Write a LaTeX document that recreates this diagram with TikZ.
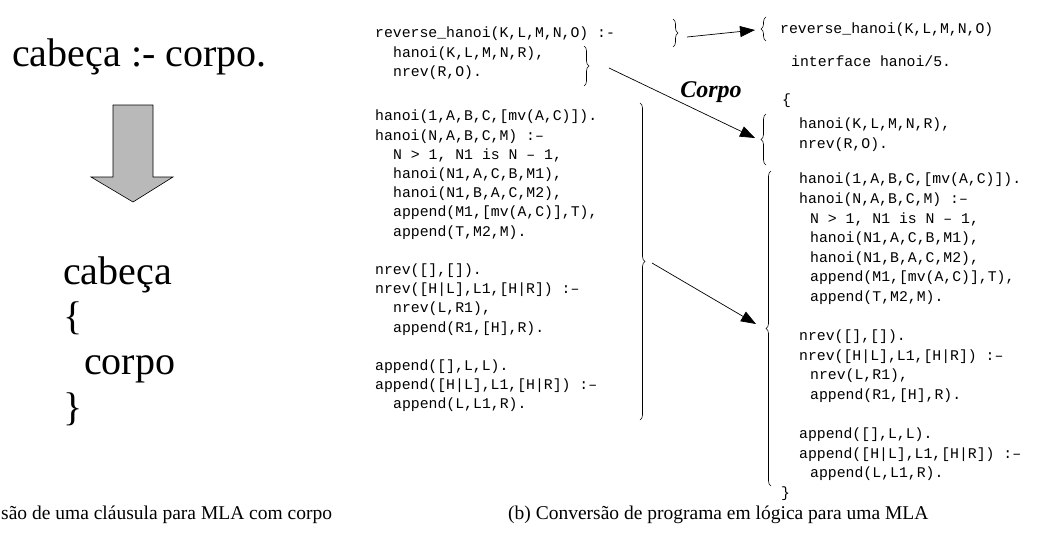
\documentclass[tikz,border=0pt]{standalone}
\usepackage{fontspec}
\setmainfont{Liberation Serif}
\setmonofont{Liberation Mono}
\usetikzlibrary{arrows.meta,decorations.pathreplacing}

\newcommand{\ind}{\hspace*{18pt}}
\newcommand{\indr}{\hspace*{11pt}}

\tikzset{
  code/.style={font=\ttfamily\fontsize{14.8}{19.2}\selectfont, anchor=north west, inner sep=0pt, align=left},
  coder/.style={code, font=\ttfamily\fontsize{14.8}{19.6}\selectfont},
  grande/.style={font=\fontsize{40}{42}\selectfont, anchor=base west, inner sep=0pt},
  legenda/.style={font=\fontsize{19.5}{22}\selectfont, anchor=base west, inner sep=0pt},
  chave/.style={decorate, decoration={brace, amplitude=5pt}, line width=0.6pt},
  seta/.style={-{Triangle[length=15pt,width=11pt]}, line width=0.7pt}
}

\begin{document}
\begin{tikzpicture}[x=1pt,y=-1pt]
\useasboundingbox (0,0) rectangle (1056,539);

% (a) clausula
\node[grande] (regra) at (12,66) {cabeça :- corpo.};
\filldraw[fill=gray!55, draw=black, line width=0.6pt] (113,105) -- (153,105) -- (153,177) -- (173,177)
  -- (133,202) -- (91,177) -- (113,177) -- cycle;
\node[grande] (cabeca) at (63,284) {cabeça};
\node[grande] (abreG) at (63,329) {\{};
\node[grande] (corpoG) at (84,374) {corpo};
\node[grande] (fechaG) at (63,420) {\}};
\node[legenda] (legA) at (1,519) {são de uma cláusula para MLA com corpo};

% (b) programa
\node[code] (revL) at (375,27) {reverse\_hanoi(K,L,M,N,O) :-\\
\ind hanoi(K,L,M,N,R),\\
\ind nrev(R,O).};
\node[code] (progL) at (375,110) {hanoi(1,A,B,C,[mv(A,C)]).\\
hanoi(N,A,B,C,M) :–\\
\ind N > 1, N1 is N – 1,\\
\ind hanoi(N1,A,C,B,M1),\\
\ind hanoi(N1,B,A,C,M2),\\
\ind append(M1,[mv(A,C)],T),\\
\ind append(T,M2,M).\\[19.2pt]
nrev([],[]).\\
nrev([H|L],L1,[H|R]) :–\\
\ind nrev(L,R1),\\
\ind append(R1,[H],R).\\[19.2pt]
append([],L,L).\\
append([H|L],L1,[H|R]) :–\\
\ind append(L,L1,R).};

\node[code] (revR) at (780,23) {reverse\_hanoi(K,L,M,N,O)};
\node[code] (iface) at (791,56) {interface hanoi/5.};
\node[code] (abre) at (782,94) {\{};
\node[coder] (corpoR) at (799,118) {hanoi(K,L,M,N,R),\\
nrev(R,O).};
\node[coder] (progR) at (799,173) {hanoi(1,A,B,C,[mv(A,C)]).\\
hanoi(N,A,B,C,M) :–\\
\indr N > 1, N1 is N – 1,\\
\indr hanoi(N1,A,C,B,M1),\\
\indr hanoi(N1,B,A,C,M2),\\
\indr append(M1,[mv(A,C)],T),\\
\indr append(T,M2,M).\\[19.6pt]
nrev([],[]).\\
nrev([H|L],L1,[H|R]) :–\\
\indr nrev(L,R1),\\
\indr append(R1,[H],R).\\[19.6pt]
append([],L,L).\\
append([H|L],L1,[H|R]) :–\\
\indr append(L,L1,R).};
\node[code] (fecha) at (781,487) {\}};

% chaves
\draw[chave] (673,19) -- (673,47);
\draw[chave] (584,46) -- (584,86);
\draw[chave] (640,103) -- (640,420);
\draw[chave] (766,41) -- (766,17);
\draw[chave] (766,165) -- (766,114);
\draw[chave] (771,486) -- (771,171);

% setas
\coordinate (p1) at (687,37);
\coordinate (q1) at (755,30);
\coordinate (p2) at (609,68);
\coordinate (q2) at (755,138);
\coordinate (p3) at (652,263);
\coordinate (q3) at (756,324);
\draw[seta] (p1) -- (q1);
\draw[seta] (p2) -- (q2);
\draw[seta] (p3) -- (q3);
\node[font=\bfseries\itshape\fontsize{24}{26}\selectfont, inner sep=0pt] (corpoLbl) at (711,92) {Corpo};

\node[legenda] (legB) at (508,519) {(b) Conversão de programa em lógica para uma MLA};
\end{tikzpicture}
\end{document}
